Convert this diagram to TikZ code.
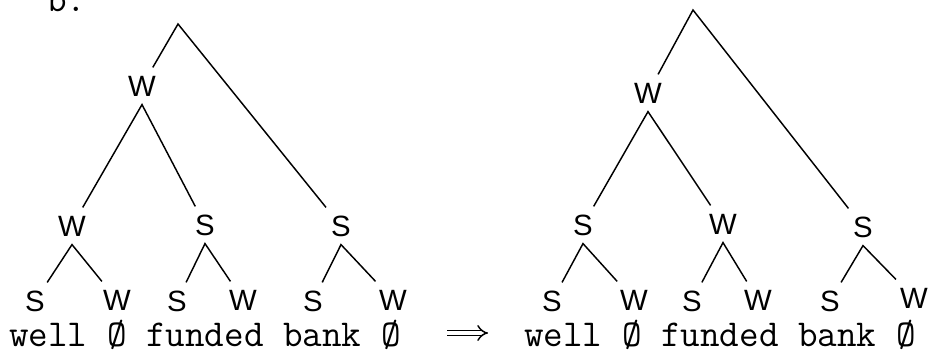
\documentclass[tikz,border=0pt]{standalone}
\usepackage{fontspec}
\usepackage{tikz}
\usetikzlibrary{arrows.meta}
\newfontfamily\wordfont{Latin Modern Mono}
\newfontfamily\markfont{Liberation Sans}
\tikzset{
  br/.style={line width=1.1pt,black},
  mk/.style={font=\markfont\fontsize{22}{22}\selectfont,inner sep=6pt,text height=15.5pt,text depth=0pt},
  wd/.style={font=\wordfont\fontsize{28.5}{32}\selectfont,inner sep=0pt,anchor=base west},
  im/.style={-{Implies},double,double distance=3pt,line width=1.1pt}
}

\begin{document}
\begin{tikzpicture}[x=0.75pt,y=-0.75pt]
\useasboundingbox (0,0) rectangle (931,356);
\node[wd] (lbl) at (47,12) {b.};
% left tree
\coordinate (lroot) at (178,24);
\node[mk] (lw) at (142,86) {W};
\node[mk] (lww) at (72,226) {W};
\node[mk] (lws) at (205,225) {S};
\node[mk] (lsr) at (341,226) {S};
\node[mk] (la) at (35,301) {S};
\node[mk] (lb) at (117,300) {W};
\node[mk] (lc) at (177,301) {S};
\node[mk] (ld) at (243,300) {W};
\node[mk] (le) at (313,301) {S};
\node[mk] (lf) at (393,300) {W};
\draw[br] (lw) -- (lroot) -- (lsr);
\draw[br] (lww) -- (lw.south) -- (lws);
\draw[br] (la) -- (lww.south) -- (lb);
\draw[br] (lc) -- (lws.south) -- (ld);
\draw[br] (le) -- (lsr.south) -- (lf);
\node[wd] (lwords) at (9,346) {well Ø funded bank Ø};
% arrow
\coordinate (arrl) at (447,333);
\coordinate (arrr) at (488,333);
\draw[im] (arrl) -- (arrr);
% right tree
\coordinate (rroot) at (693,10);
\node[mk] (rw) at (648,93) {W};
\node[mk] (rws) at (583,225) {S};
\node[mk] (rww) at (723,224) {W};
\node[mk] (rsr) at (863,227) {S};
\node[mk] (ra) at (552,301) {S};
\node[mk] (rb) at (634,300) {W};
\node[mk] (rc) at (692,301) {S};
\node[mk] (rd) at (758,300) {W};
\node[mk] (re) at (830,301) {S};
\node[mk] (rf) at (914,298) {W};
\draw[br] (rw) -- (rroot) -- (rsr);
\draw[br] (rws) -- (rw.south) -- (rww);
\draw[br] (ra) -- (rws.south) -- (rb);
\draw[br] (rc) -- (rww.south) -- (rd);
\draw[br] (re) -- (rsr.south) -- (rf);
\node[wd] (rwords) at (524,346) {well Ø funded bank Ø};
\end{tikzpicture}
\end{document}
